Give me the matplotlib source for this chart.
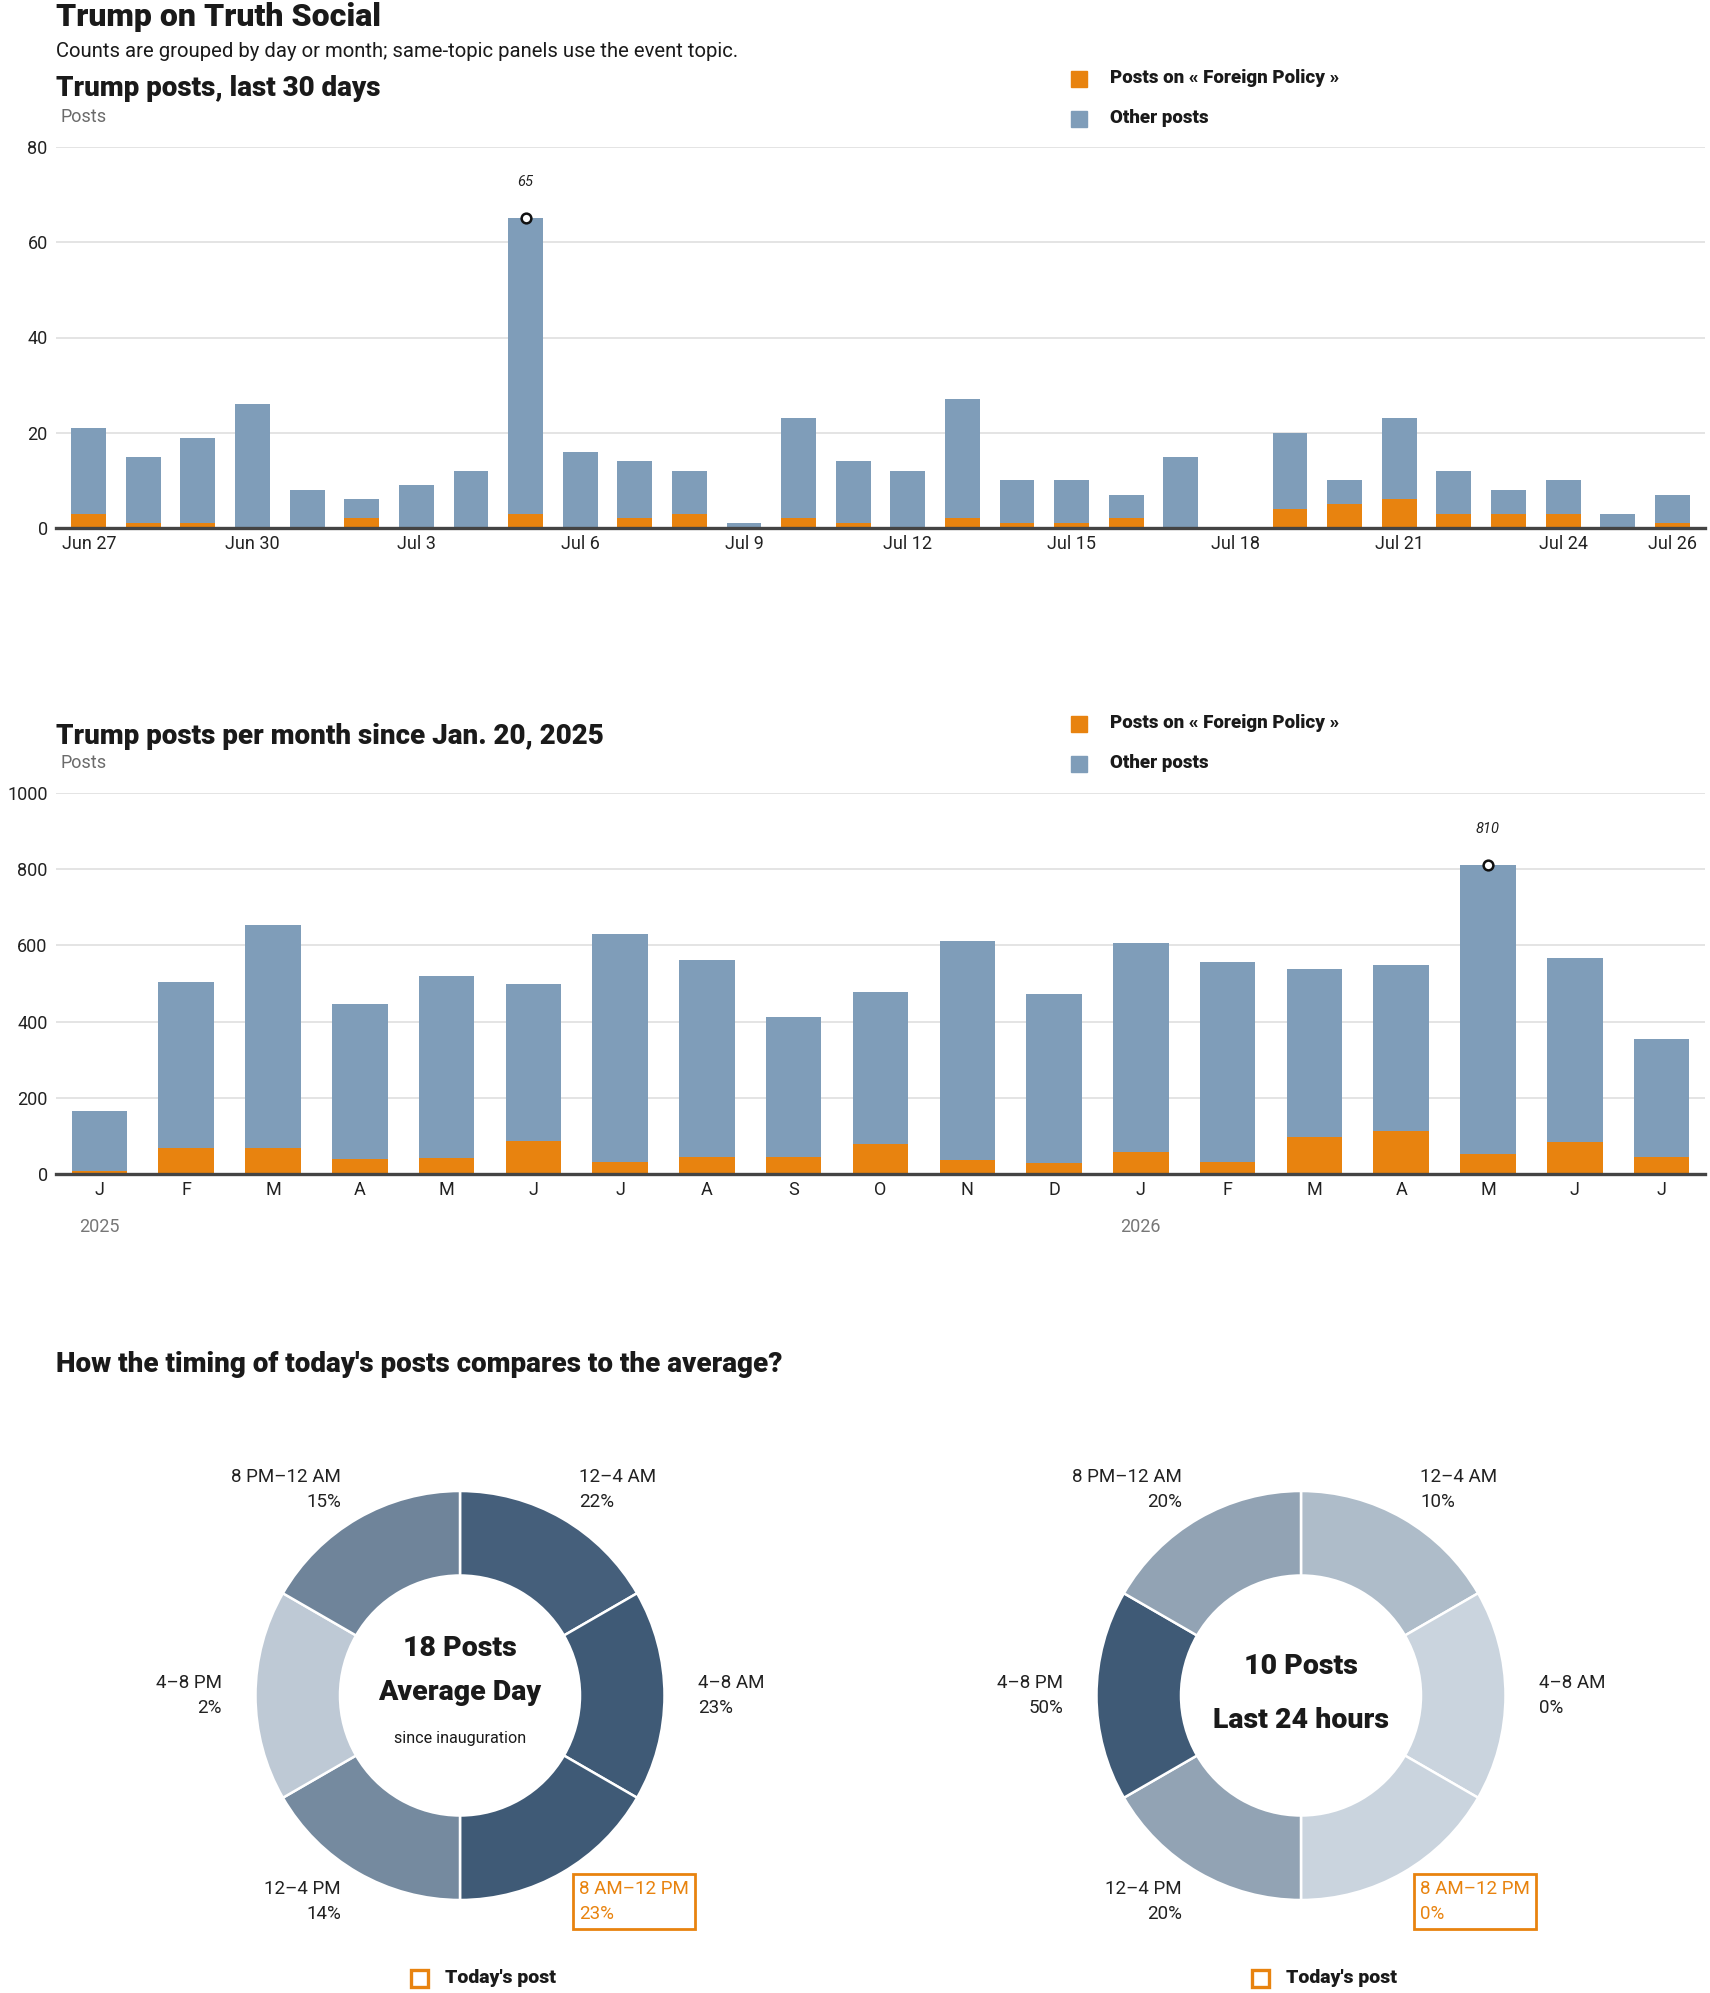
import numpy as np
import matplotlib
matplotlib.use('Agg')
import matplotlib.pyplot as plt
from matplotlib import font_manager
from matplotlib.colors import to_rgb
from matplotlib.patches import Rectangle
from matplotlib.transforms import blended_transform_factory

# ---- data ----
day_labels = ['Jun 27', 'Jun 28', 'Jun 29', 'Jun 30', 'Jul 1', 'Jul 2', 'Jul 3', 'Jul 4',
              'Jul 5', 'Jul 6', 'Jul 7', 'Jul 8', 'Jul 9', 'Jul 10', 'Jul 11', 'Jul 12',
              'Jul 13', 'Jul 14', 'Jul 15', 'Jul 16', 'Jul 17', 'Jul 18', 'Jul 19', 'Jul 20',
              'Jul 21', 'Jul 22', 'Jul 23', 'Jul 24', 'Jul 25', 'Jul 26']
daily_total = [21, 15, 19, 26, 8, 6, 9, 12, 65, 16, 14, 12, 1, 23, 14, 12,
               27, 10, 10, 7, 15, 0, 20, 10, 23, 12, 8, 10, 3, 7]
daily_foreign = [3, 1, 1, 0, 0, 2, 0, 0, 3, 0, 2, 3, 0, 2, 1, 0,
                 2, 1, 1, 2, 0, 0, 4, 5, 6, 3, 3, 3, 0, 1]
daily_ticks = ['Jun 27', 'Jun 30', 'Jul 3', 'Jul 6', 'Jul 9', 'Jul 12', 'Jul 15',
               'Jul 18', 'Jul 21', 'Jul 24', 'Jul 26']

month_labels = ['J', 'F', 'M', 'A', 'M', 'J', 'J', 'A', 'S', 'O', 'N', 'D',
                'J', 'F', 'M', 'A', 'M', 'J', 'J']
month_years = {0: '2025', 12: '2026'}
monthly_total = [165, 504, 654, 447, 520, 499, 630, 562, 412, 477, 612, 473,
                 607, 556, 538, 549, 810, 568, 355]
monthly_foreign = [7, 69, 69, 39, 43, 86, 32, 45, 45, 79, 38, 30,
                   58, 32, 96, 113, 53, 83, 45]

slot_labels = ['12–4 AM', '4–8 AM', '8 AM–12 PM', '12–4 PM', '4–8 PM', '8 PM–12 AM']
avg_share = [22, 23, 23, 14, 2, 15]
today_share = [10, 0, 0, 20, 50, 20]
today_slot = '8 AM–12 PM'

# ---- style ----
W, H = 1710, 1993
ORANGE = '#e8830f'
BLUE = '#7f9db9'
GRID = '#dcdcdc'
INK = '#1a1a1a'
GREY = '#6b6b6b'
LIGHT = np.array(to_rgb('#cad4de'))
DARK = np.array(to_rgb('#3f5a76'))

names = {f.name for f in font_manager.fontManager.ttflist}
SANS = 'Roboto' if 'Roboto' in names else 'DejaVu Sans'
plt.rcParams['font.family'] = [SANS, 'DejaVu Sans']

fig = plt.figure(figsize=(W / 100, H / 100), dpi=100)


def ftext(x, y, s, **kw):
    # place text with pixel coordinates measured from the top-left
    return fig.text(x / W, 1 - y / H, s, **kw)


def px_rect(left, top, right, bottom):
    return [left / W, 1 - bottom / H, (right - left) / W, (bottom - top) / H]


def legend(y1, y2):
    for y, col, lab in [(y1, ORANGE, 'Posts on « Foreign Policy »'), (y2, BLUE, 'Other posts')]:
        fig.patches.append(Rectangle((1071 / W, 1 - (y + 16) / H), 16 / W, 16 / H,
                                     transform=fig.transFigure, color=col))
        ftext(1110, y + 12, lab, fontsize=13.5, fontweight='black', color=INK, va='baseline')


def bar_panel(top, bottom, total, foreign, ymax, ystep, xpad, tick_pos, tick_text):
    ax = fig.add_axes(px_rect(56, top, 1705, bottom))
    x = np.arange(len(total))
    other = np.array(total) - np.array(foreign)
    ax.bar(x, foreign, width=0.64, color=ORANGE, zorder=2)
    ax.bar(x, other, bottom=foreign, width=0.64, color=BLUE, zorder=2)
    ax.set_xlim(-xpad, len(total) - 1 + xpad)
    ax.set_ylim(0, ymax)
    ax.set_yticks(np.arange(0, ymax + 1, ystep))
    ax.set_xticks(tick_pos)
    ax.set_xticklabels(tick_text)
    ax.grid(axis='y', color=GRID, linewidth=1.1)
    ax.set_axisbelow(True)
    for s in ['top', 'right', 'left']:
        ax.spines[s].set_visible(False)
    ax.spines['bottom'].set_color('#444444')
    ax.spines['bottom'].set_linewidth(2.4)
    ax.spines['bottom'].set_zorder(3)
    ax.tick_params(axis='both', length=0, labelsize=13, colors='#222222')
    ax.tick_params(axis='y', pad=6)
    ax.tick_params(axis='x', pad=5)
    i = int(np.argmax(total))
    ax.plot(i, total[i], 'o', mfc='white', mec='#111111', ms=7, mew=1.8, zorder=4)
    ax.annotate(str(total[i]), (i, total[i]), xytext=(0, 26), textcoords='offset points',
                ha='center', va='center', fontsize=10.5, style='italic', color='#222222')
    return ax


# ---- header ----
ftext(56, 26, 'Trump on Truth Social', fontsize=23, fontweight='black', color=INK, va='baseline')
ftext(56, 57, 'Counts are grouped by day or month; same-topic panels use the event topic.',
      fontsize=14.6, color=INK, va='baseline')

# ---- daily panel ----
ftext(56, 96, 'Trump posts, last 30 days', fontsize=20, fontweight='black', color=INK, va='baseline')
ftext(60, 122, 'Posts', fontsize=13, color=GREY, va='baseline')
legend(71, 111)
bar_panel(147, 528, daily_total, daily_foreign, 80, 20, 0.6,
          [day_labels.index(t) for t in daily_ticks], daily_ticks)

# ---- monthly panel ----
ftext(56, 744, 'Trump posts per month since Jan. 20, 2025', fontsize=20, fontweight='black',
      color=INK, va='baseline')
ftext(60, 768, 'Posts', fontsize=13, color=GREY, va='baseline')
legend(716, 756)
ax2 = bar_panel(793, 1174, monthly_total, monthly_foreign, 1000, 200, 0.5,
                list(range(len(month_labels))), month_labels)
tr = blended_transform_factory(ax2.transData, ax2.transAxes)
for i, yr in month_years.items():
    ax2.text(i, -0.139, yr, transform=tr, ha='center', va='center', fontsize=13, color='#777777')

# ---- donuts ----
ftext(56, 1372, "How the timing of today's posts compares to the average?", fontsize=20,
      fontweight='black', color=INK, va='baseline')


def donut(cx, cy, shares, center_lines):
    ax = fig.add_axes(px_rect(cx - 300, cy - 300, cx + 300, cy + 300))
    vmax = max(shares)
    cols = [LIGHT + (DARK - LIGHT) * (v / vmax) for v in shares]
    ax.pie([1] * len(shares), colors=cols, radius=204.5, startangle=90, counterclock=False,
           wedgeprops=dict(width=84.5, edgecolor='white', linewidth=1.8))
    ax.set_xlim(-300, 300)
    ax.set_ylim(-300, 300)
    ax.axis('off')
    n = len(shares)
    for k, (lab, v) in enumerate(zip(slot_labels, shares)):
        th = np.deg2rad((k + 0.5) * 360 / n)
        lx, ly = 238 * np.sin(th), 238 * np.cos(th)
        ha = 'left' if np.sin(th) > 0 else 'right'
        hi = lab == today_slot
        kw = dict(ha=ha, va='center', fontsize=13.5, linespacing=1.5,
                  color=ORANGE if hi else '#222222')
        if hi:
            kw['bbox'] = dict(boxstyle='square,pad=0.3', fc='none', ec=ORANGE, lw=2)
        ax.text(lx, ly, f'{lab}\n{v}%', **kw)
    for y, s, size, weight in center_lines:
        ax.text(0, cy - y, s, ha='center', va='baseline', fontsize=size, fontweight=weight,
                color=INK)
    # "Today's post" key
    fig.patches.append(Rectangle(((cx - 49) / W, 1 - 1987 / H), 17 / W, 17 / H,
                                 transform=fig.transFigure, fc='none', ec=ORANGE, lw=2.4))
    ftext(cx - 15, 1983, "Today's post", fontsize=14, fontweight='black', color=INK, va='baseline')


donut(460, 1695.5, avg_share,
      [(1656, '18 Posts', 20.5, 'black'), (1700, 'Average Day', 20.5, 'black'),
       (1743, 'since inauguration', 11.6, 'normal')])
donut(1301, 1695.5, today_share,
      [(1674.5, '10 Posts', 20.5, 'black'), (1727.5, 'Last 24 hours', 20.5, 'black')])

fig.savefig('out.png', dpi=100)
